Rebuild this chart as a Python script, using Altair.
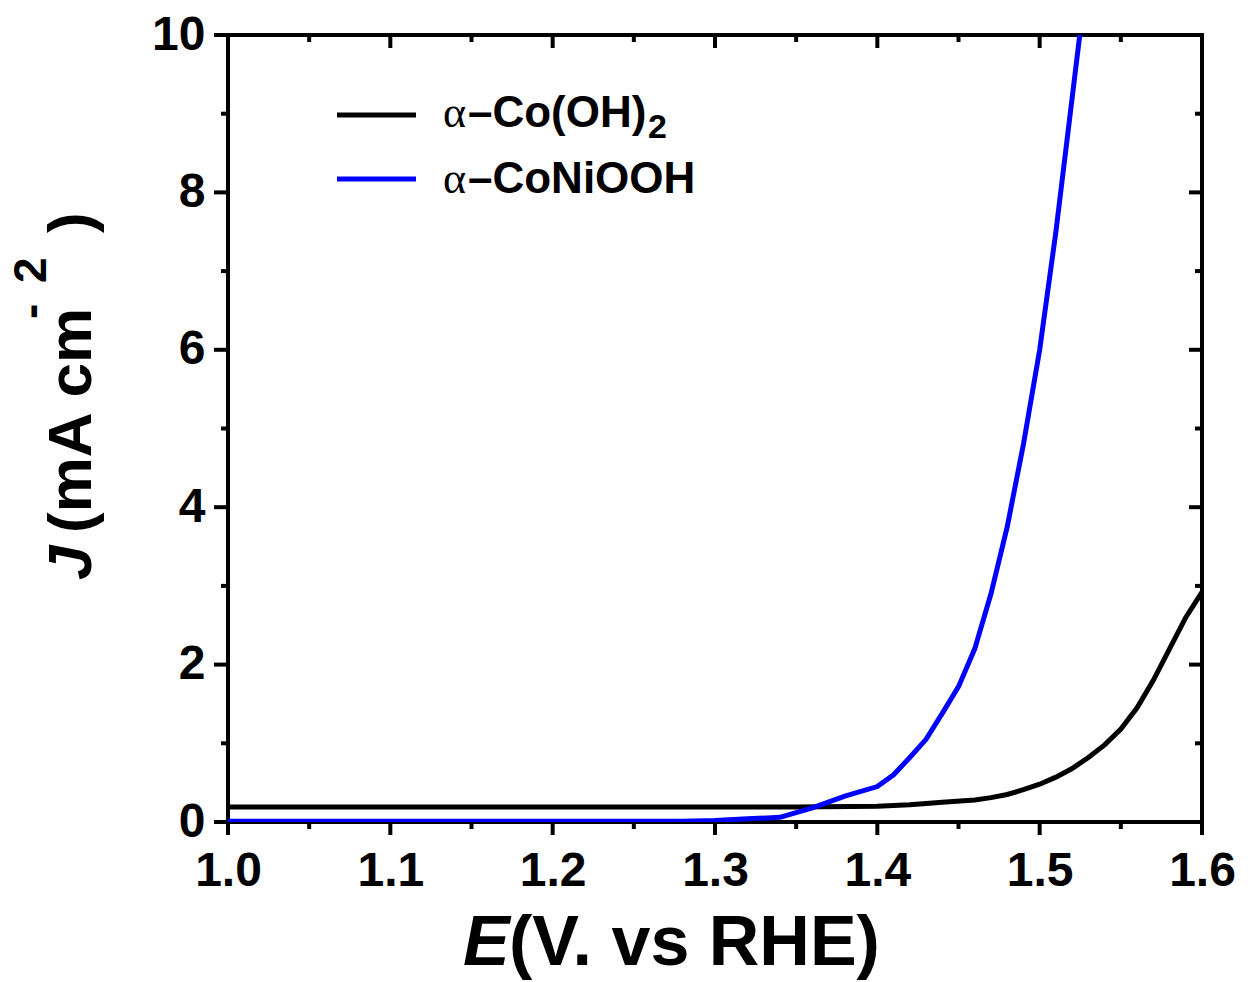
import altair as alt
import pandas as pd

# ---- data ----
E_coOH = [1.00, 1.10, 1.20, 1.30, 1.35, 1.40, 1.42, 1.44, 1.46, 1.47, 1.48, 1.49,
          1.50, 1.51, 1.52, 1.53, 1.54, 1.55, 1.56, 1.57, 1.58, 1.59, 1.60]
J_coOH = [0.19, 0.19, 0.19, 0.19, 0.19, 0.20, 0.22, 0.25, 0.28, 0.31, 0.35, 0.41,
          0.48, 0.57, 0.68, 0.82, 0.98, 1.18, 1.45, 1.80, 2.20, 2.60, 2.92]

E_coni = [1.00, 1.10, 1.20, 1.28, 1.30, 1.32, 1.34, 1.36, 1.38, 1.40, 1.41, 1.42,
          1.43, 1.44, 1.45, 1.46, 1.47, 1.48, 1.49, 1.50, 1.51, 1.52, 1.525, 1.53]
J_coni = [0.01, 0.01, 0.01, 0.01, 0.02, 0.04, 0.06, 0.18, 0.33, 0.45, 0.60, 0.82,
          1.05, 1.38, 1.72, 2.20, 2.90, 3.75, 4.80, 6.00, 7.50, 9.20, 10.05, 11.0]

series = ["α–Co(OH)2", "α–CoNiOOH"]
colors = ["#000000", "#0000ff"]

x_major = [1.0, 1.1, 1.2, 1.3, 1.4, 1.5, 1.6]
x_minor = [1.05, 1.15, 1.25, 1.35, 1.45, 1.55]
y_major = [0, 2, 4, 6, 8, 10]
y_minor = [1, 3, 5, 7, 9]

# ---- layout ----
W, H = 974, 787
FONT = "Liberation Sans"

df = pd.concat([
    pd.DataFrame({"E": E_coOH, "J": J_coOH, "series": series[0], "k": 0}),
    pd.DataFrame({"E": E_coni, "J": J_coni, "series": series[1], "k": 1}),
])

xs = alt.Scale(domain=[1.0, 1.6], nice=False, zero=False)
ys = alt.Scale(domain=[0, 10], nice=False, zero=False)

lab = dict(labelFont=FONT, labelFontSize=48, labelFontWeight="bold", labelColor="black",
           ticks=False, domain=False, grid=False, title=None, labelFlush=False,
           labelOverlap=False)
xa = alt.Axis(values=x_major, format=".1f", labelPadding=25, **lab)
ya = alt.Axis(values=y_major, format="d", labelPadding=23, **lab)

lines = alt.Chart(df).mark_line(strokeWidth=5, clip=True).encode(
    x=alt.X("E:Q", scale=xs, axis=xa),
    y=alt.Y("J:Q", scale=ys, axis=ya),
    color=alt.Color("series:N", scale=alt.Scale(domain=series, range=colors), legend=None),
    order="k:Q",
)

one = pd.DataFrame({"a": [0]})


def xticks(vals, y0, y1):
    return alt.Chart(pd.DataFrame({"E": vals})).mark_rule(strokeWidth=4, color="black").encode(
        x=alt.X("E:Q", scale=xs, axis=xa), y=alt.value(y0), y2=alt.value(y1))


def yticks(vals, x0, x1):
    return alt.Chart(pd.DataFrame({"J": vals})).mark_rule(strokeWidth=4, color="black").encode(
        y=alt.Y("J:Q", scale=ys, axis=ya), x=alt.value(x0), x2=alt.value(x1))


ticks = [
    xticks(x_major, H, H + 13), xticks(x_minor, H, H + 7),
    xticks(x_major, 0, 13), xticks(x_minor, 0, 7),
    yticks(y_major, -14, 0), yticks(y_minor, -7, 0),
    yticks(y_major, W - 13, W), yticks(y_minor, W - 7, W),
]


def txt(t, x, y, size, italic=False, font=FONT, weight="bold", angle=0):
    kw = dict(text=t, font=font, fontSize=size, fontWeight=weight, align="left",
              baseline="alphabetic", color="black")
    if italic:
        kw["fontStyle"] = "italic"
    if angle:
        kw["angle"] = angle
    return alt.Chart(one).mark_text(**kw).encode(x=alt.value(x), y=alt.value(y))


def lrule(y, c):
    return alt.Chart(one).mark_rule(strokeWidth=5, color=c).encode(
        x=alt.value(109), x2=alt.value(188), y=alt.value(y))


legend = [
    lrule(80, colors[0]), lrule(144, colors[1]),
    txt("α", 215, 92, 44, font="Liberation Serif", weight="normal"),
    txt("–Co(OH)", 240, 92, 44),
    txt("2", 420, 103, 34),
    txt("α", 215, 158, 44, font="Liberation Serif", weight="normal"),
    txt("–CoNiOOH", 240, 158, 44),
]

titles = [
    txt("E", 235, 930, 70, italic=True),
    txt("(V. vs RHE)", 281, 930, 70),
    txt("J", -137, 545, 62, italic=True, angle=270),
    txt("(mA cm", -137, 498, 62, angle=270),
    txt("-", -182, 284, 46, angle=270),
    txt("2", -182, 248, 46, angle=270),
    txt(")", -137, 198, 62, angle=270),
]

chart = alt.layer(lines, *ticks, *legend, *titles).properties(
    width=W, height=H,
    autosize=alt.AutoSizeParams(type="none"),
    padding={"left": 228, "top": 35, "right": 46, "bottom": 160},
    background="white",
).configure_view(stroke="black", strokeWidth=4)

chart.save("out.html", embed_options={"renderer": "svg", "actions": False})
